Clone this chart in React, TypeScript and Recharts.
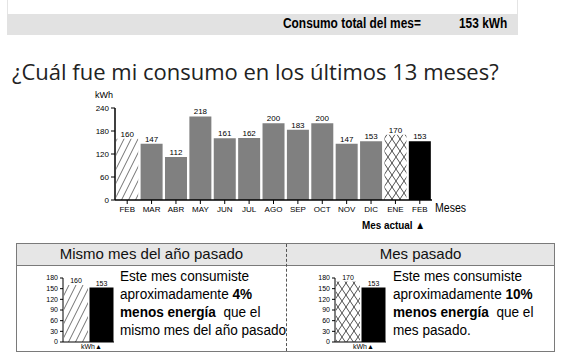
import React from 'react';
import { BarChart, Bar, XAxis, YAxis, Cell, LabelList } from 'recharts';

const months = ['FEB', 'MAR', 'ABR', 'MAY', 'JUN', 'JUL', 'AGO', 'SEP', 'OCT', 'NOV', 'DIC', 'ENE', 'FEB'];
const consumption = [160, 147, 112, 218, 161, 162, 200, 183, 200, 147, 153, 170, 153];
const mainTicks = [0, 60, 120, 180, 240];

const yearCompare = [160, 153];
const monthCompare = [170, 153];
const miniTicks = [0, 30, 60, 90, 120, 150, 180];

const mainData = months.map((m, i) => ({ key: m + i, month: m, kwh: consumption[i] }));

const FONT = '"Liberation Sans Narrow", "Liberation Sans", Arial, sans-serif';
const BODY = '"Liberation Sans", Arial, sans-serif';

const fillFor = (i: number, n: number) => {
  if (i === n - 1) return '#000000';
  if (i === 0) return 'url(#hatch)';
  if (i === n - 2) return 'url(#cross)';
  return '#808080';
};

const Patterns = () => (
  <defs>
    <pattern id="hatch" patternUnits="userSpaceOnUse" width={7} height={14}>
      <rect width={7} height={14} fill="#fff" />
      <path d="M0,14 L7,0 M-3.5,7 L0,0 M7,14 L10.5,7" stroke="#333" strokeWidth={0.7} />
    </pattern>
    <pattern id="cross" patternUnits="userSpaceOnUse" width={8} height={12}>
      <rect width={8} height={12} fill="#fff" />
      <path d="M0,0 L8,12 M8,0 L0,12" stroke="#222" strokeWidth={0.8} />
    </pattern>
  </defs>
);

// narrow-looking text, the original uses a condensed face
const Narrow = ({ children, scale = 0.86 }: { children: React.ReactNode; scale?: number }) => (
  <span style={{ display: 'inline-block', transform: `scaleX(${scale})`, transformOrigin: 'left', whiteSpace: 'nowrap' }}>{children}</span>
);

const MiniChart = ({ values, kind, left }: { values: number[]; kind: 'hatch' | 'cross'; left: number }) => {
  const data = values.map((v, i) => ({ name: 'b' + i, kwh: v }));
  return (
    <div style={{ position: 'absolute', left, top: 265 }}>
      <BarChart width={90} height={87} data={data} margin={{ top: 13, right: 6, left: 0, bottom: 0 }} barCategoryGap={1}>
        <Patterns />
        <XAxis dataKey="name" tick={false} tickLine={false} height={10} axisLine={{ stroke: '#000' }} />
        <YAxis
          domain={[0, 180]}
          ticks={miniTicks}
          interval={0}
          width={33}
          tickSize={3}
          axisLine={{ stroke: '#000' }}
          tickLine={{ stroke: '#000' }}
          tick={{ fontSize: 7, fill: '#000', fontFamily: FONT }}
        />
        <Bar dataKey="kwh" isAnimationActive={false}>
          {data.map((d, i) => (
            <Cell key={d.name} fill={i === 0 ? `url(#${kind})` : '#000'} />
          ))}
          <LabelList dataKey="kwh" position="top" offset={2} style={{ fontSize: 7, fill: '#000', fontFamily: FONT }} />
        </Bar>
      </BarChart>
    </div>
  );
};

export default function App() {
  return (
    <div style={{ position: 'absolute', left: 0, top: 0, width: 573, height: 357, background: '#fff', overflow: 'hidden', fontFamily: BODY }}>
      {/* top summary strip */}
      <div style={{ position: 'absolute', left: 7, top: -2, width: 511, height: 37, border: '1px solid #e4e4e4', boxSizing: 'border-box' }} />
      <div style={{ position: 'absolute', left: 7, top: 14, width: 511, height: 21, background: '#e2e2e2' }} />
      <div style={{ position: 'absolute', left: 283, top: 15, fontWeight: 'bold', fontSize: 14, color: '#000' }}>
        <Narrow scale={0.85}>Consumo total del mes=</Narrow>
      </div>
      <div style={{ position: 'absolute', left: 459, top: 15, fontWeight: 'bold', fontSize: 14, color: '#000' }}>
        <Narrow scale={0.85}>153 kWh</Narrow>
      </div>

      <div style={{ position: 'absolute', left: 12, top: 56, fontFamily: '"Open Sans", "Noto Sans", sans-serif', fontSize: 22, color: '#222', whiteSpace: 'nowrap' }}>
        ¿Cuál fue mi consumo en los últimos 13 meses?
      </div>

      {/* main chart */}
      <div style={{ position: 'absolute', left: 60, top: 85 }}>
        <BarChart width={420} height={150} data={mainData} margin={{ top: 23, right: 48, left: 0, bottom: 15 }} barCategoryGap="5%">
          <Patterns />
          <XAxis
            dataKey="key"
            interval={0}
            height={20}
            tickSize={4}
            tickFormatter={(v: string, i: number) => months[i]}
            axisLine={{ stroke: '#000', strokeWidth: 1.5 }}
            tickLine={{ stroke: '#000' }}
            tick={{ fontSize: 8, fill: '#000', fontFamily: FONT }}
          />
          <YAxis
            domain={[0, 240]}
            ticks={mainTicks}
            interval={0}
            width={55}
            tickSize={4}
            axisLine={{ stroke: '#000', strokeWidth: 1.5 }}
            tickLine={{ stroke: '#000' }}
            tick={{ fontSize: 8, fill: '#000', fontFamily: FONT }}
          />
          <Bar dataKey="kwh" isAnimationActive={false}>
            {mainData.map((d, i) => (
              <Cell key={d.key} fill={fillFor(i, mainData.length)} />
            ))}
            <LabelList dataKey="kwh" position="top" offset={2} style={{ fontSize: 8, fill: '#000', fontFamily: FONT }} />
          </Bar>
        </BarChart>
      </div>
      <div style={{ position: 'absolute', left: 95, top: 90, fontSize: 9, color: '#000' }}>kWh</div>
      <div style={{ position: 'absolute', left: 435, top: 201, fontSize: 12, color: '#000' }}>
        <Narrow scale={0.88}>Meses</Narrow>
      </div>
      <div style={{ position: 'absolute', left: 362, top: 219, fontSize: 11, fontWeight: 'bold', color: '#000' }}>
        <Narrow scale={0.9}>Mes actual ▲</Narrow>
      </div>

      {/* bottom comparison panels */}
      <div style={{ position: 'absolute', left: 16, top: 243, width: 539, height: 109, border: '1px solid #7a7a7a', boxSizing: 'border-box' }} />
      <div style={{ position: 'absolute', left: 17, top: 244, width: 537, height: 21, background: '#e6e6e6', borderBottom: '1px solid #7a7a7a' }} />
      <div style={{ position: 'absolute', left: 286, top: 244, width: 0, height: 107, borderLeft: '1px dashed #555' }} />
      <div style={{ position: 'absolute', left: 17, top: 245, width: 269, textAlign: 'center', fontSize: 15, color: '#111' }}>Mismo mes del año pasado</div>
      <div style={{ position: 'absolute', left: 287, top: 245, width: 267, textAlign: 'center', fontSize: 15, color: '#111' }}>Mes pasado</div>

      <MiniChart values={yearCompare} kind="hatch" left={30} />
      <MiniChart values={monthCompare} kind="cross" left={302} />
      <div style={{ position: 'absolute', left: 81, top: 343, fontSize: 7, color: '#000' }}>kWh▲</div>
      <div style={{ position: 'absolute', left: 353, top: 343, fontSize: 7, color: '#000' }}>kWh▲</div>

      <div style={{ position: 'absolute', left: 120, top: 267, fontSize: 14, lineHeight: '18px', color: '#000' }}>
        <Narrow scale={0.97}>
          Este mes consumiste<br />
          aproximadamente <b>4%</b><br />
          <b>menos energía</b>&nbsp; que el<br />
          mismo mes del año pasado
        </Narrow>
      </div>
      <div style={{ position: 'absolute', left: 393, top: 267, fontSize: 14, lineHeight: '18px', color: '#000' }}>
        <Narrow scale={0.97}>
          Este mes consumiste<br />
          aproximadamente <b>10%</b><br />
          <b>menos energía</b>&nbsp; que el<br />
          mes pasado.
        </Narrow>
      </div>
    </div>
  );
}
